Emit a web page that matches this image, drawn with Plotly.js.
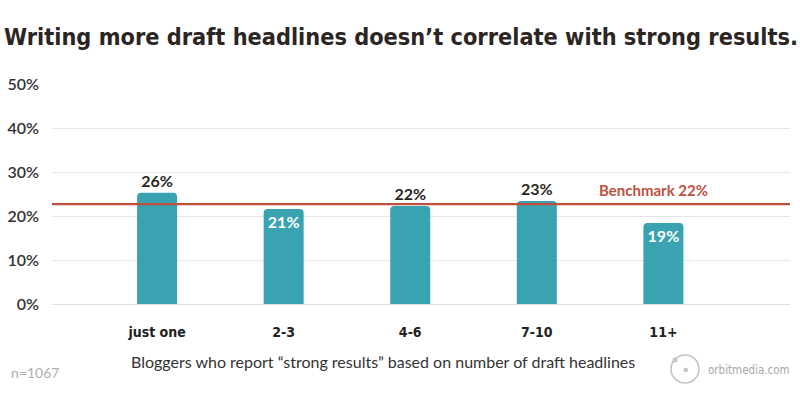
<!DOCTYPE html>
<html>
<head>
<meta charset="utf-8">
<script src="https://cdn.plot.ly/plotly-3.0.1.min.js"></script>
<style>html,body{margin:0;padding:0;background:#fff;}#chart{width:800px;height:400px;}</style>
</head>
<body>
<div id="chart"></div>
<script>
const categories = ["just one", "2-3", "4-6", "7-10", "11+"];
const values = [25.3, 21.6, 22.3, 23.4, 18.4];
const valueLabels = ["26%", "21%", "22%", "23%", "19%"];
const labelPositions = ["outside", "inside", "outside", "outside", "inside"];
const benchmark = 22.7;
const benchmarkLabel = "Benchmark 22%";
const yTickVals = [0, 10, 20, 30, 40, 50];
const yTickText = ["0%", "10%", "20%", "30%", "40%", "50%"];
const titleText = "Writing more draft headlines doesn\u2019t correlate with strong results.";
const axisTitle = "Bloggers who report \u201cstrong results\u201d based on number of draft headlines";
const sampleNote = "n=1067";
const brand = "orbitmedia.com";

const L = 52, R = 10, T = 84, B = 96, W = 800, H = 400;
const pw = W - L - R, ph = H - T - B;
const px = x => (x - L) / pw;
const py = y => (H - B - y) / ph;

const teal = "#3aa3b2";
const red = "#c0503c";
const dark = "#2b2623";
const cond = "DejaVu Sans Condensed";

const xIdx = categories.map((c, i) => i);

const trace = {
  type: "bar",
  x: xIdx,
  y: values,
  width: 0.316,
  marker: {color: teal, line: {width: 0}},
  text: valueLabels,
  textposition: labelPositions,
  insidetextanchor: "end",
  textangle: 0,
  textfont: {family: "Lato", size: 16, weight: 700,
             color: labelPositions.map(p => p === "inside" ? "#ffffff" : dark)},
  cliponaxis: false,
  hoverinfo: "skip"
};

const layout = {
  width: W, height: H,
  margin: {l: L, r: R, t: T, b: B, pad: 0},
  paper_bgcolor: "#fff", plot_bgcolor: "#fff",
  showlegend: false,
  barcornerradius: 4,
  title: {
    text: titleText,
    font: {family: cond, size: 23.3, weight: 700, color: dark},
    x: 4 / W, xanchor: "left", xref: "container",
    y: 1 - 37 / H, yanchor: "middle", yref: "container"
  },
  xaxis: {
    range: [-0.83, 5.0],
    tickvals: xIdx,
    ticktext: categories,
    showgrid: false, zeroline: false, showline: false,
    ticks: "", ticklabelstandoff: 18,
    tickfont: {family: cond, size: 14, weight: 700, color: "#222"},
    fixedrange: true
  },
  yaxis: {
    range: [0, 50],
    tickvals: yTickVals,
    ticktext: yTickText,
    showgrid: true, gridcolor: "#e6e6e6", gridwidth: 1,
    zeroline: true, zerolinecolor: "#e0e0e0", zerolinewidth: 1,
    showline: false, ticks: "", ticklabelstandoff: 12,
    tickfont: {family: "Lato", size: 16, weight: 600, color: "#333"},
    fixedrange: true
  },
  shapes: [
    {type: "line", xref: "paper", yref: "y", x0: 0, x1: 1, y0: benchmark, y1: benchmark,
     line: {color: red, width: 2.2}},
    {type: "circle", xref: "paper", yref: "paper",
     x0: px(671), x1: px(699), y0: py(383), y1: py(355),
     line: {color: "#c4c4c4", width: 1.6}},
    {type: "circle", xref: "paper", yref: "paper",
     x0: px(683.5), x1: px(688), y0: py(372.3), y1: py(367.8),
     fillcolor: "#c4c4c4", line: {width: 0}},
    {type: "circle", xref: "paper", yref: "paper",
     x0: px(672.5), x1: px(677.5), y0: py(362.5), y1: py(357.5),
     fillcolor: "#c4c4c4", line: {width: 0}}
  ],
  annotations: [
    {text: benchmarkLabel, xref: "x", yref: "y", x: 3.92, y: benchmark,
     xanchor: "center", yanchor: "bottom", yshift: 3, showarrow: false,
     font: {family: "Lato", size: 15, weight: 700, color: red}},
    {text: axisTitle, xref: "paper", yref: "paper", x: px(383), y: py(361),
     xanchor: "center", yanchor: "middle", showarrow: false,
     font: {family: "Lato", size: 16, color: "#333"}},
    {text: sampleNote, xref: "paper", yref: "paper", x: px(9), y: py(372),
     xanchor: "left", yanchor: "middle", showarrow: false,
     font: {family: "Lato", size: 14, color: "#b0b0b0"}},
    {text: brand, xref: "paper", yref: "paper", x: px(706), y: py(370),
     xanchor: "left", yanchor: "middle", showarrow: false,
     font: {family: cond, size: 11.5, color: "#a8a8a8"}}
  ]
};

Plotly.newPlot("chart", [trace], layout, {displayModeBar: false, staticPlot: true});
</script>
</body>
</html>
